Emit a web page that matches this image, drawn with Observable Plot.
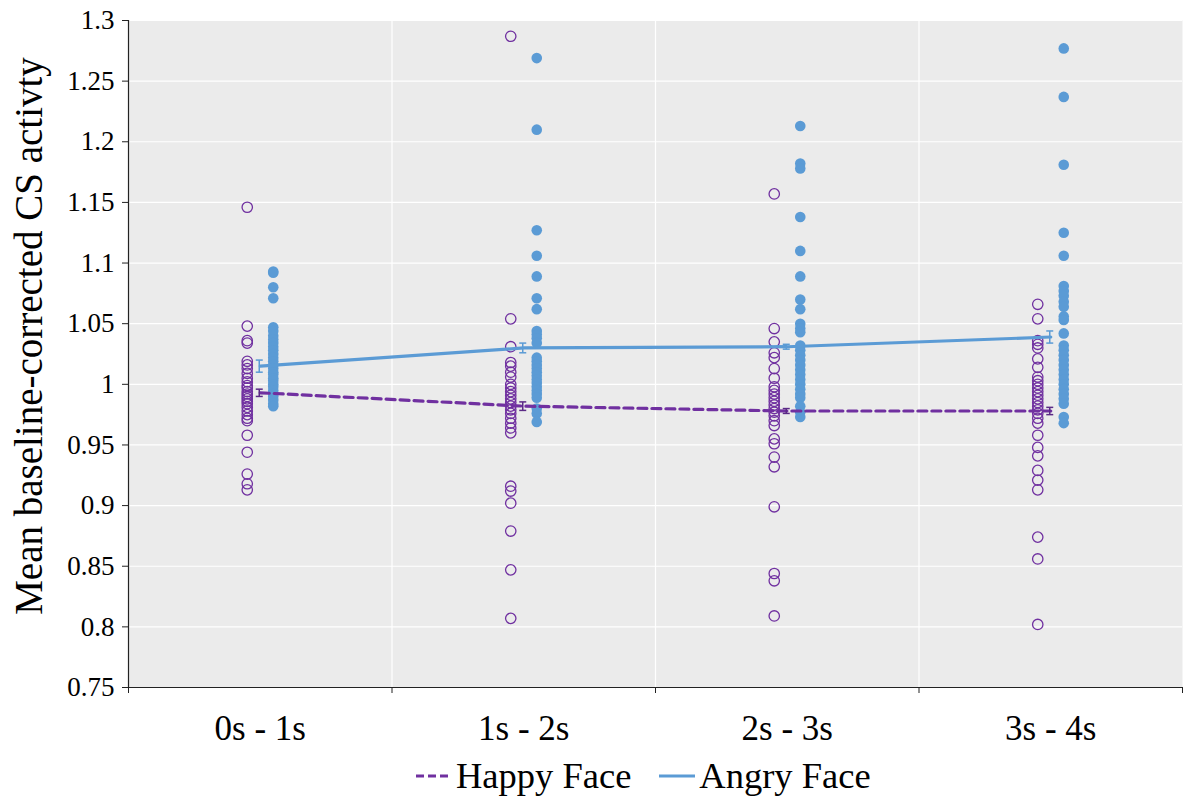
<!DOCTYPE html>
<html>
<head>
<meta charset="utf-8">
<script src="https://cdn.jsdelivr.net/npm/d3@7"></script>
<script src="https://cdn.jsdelivr.net/npm/@observablehq/plot@0.6"></script>
<style>
  html, body { margin: 0; padding: 0; background: #fff; }
  #wrap { position: relative; width: 1183px; height: 796px; font-family: "Liberation Serif", "Times New Roman", "DejaVu Serif", serif; }
  #legend { position: absolute; left: 416px; top: 754px; display: flex; align-items: center; font-size: 36.5px; color: #000; white-space: nowrap; line-height: 44px; }
  #legend .item { display: flex; align-items: center; margin-right: 28px; }
  #legend svg { margin-right: 4px; }
</style>
</head>
<body>
<div id="wrap">
  <div id="chart"></div>
  <div id="legend"></div>
</div>
<script>
const categories = ["0s - 1s", "1s - 2s", "2s - 3s", "3s - 4s"];
const seriesNames = ["Happy Face", "Angry Face"];
const yTicks = [0.75, 0.8, 0.85, 0.9, 0.95, 1, 1.05, 1.1, 1.15, 1.2, 1.25, 1.3];
const yTitle = "Mean baseline-corrected CS activty";

const happyMeans = [0.993, 0.982, 0.978, 0.978];
const angryMeans = [1.015, 1.030, 1.031, 1.039];
const happyErr = [0.003, 0.0035, 0.002, 0.003];
const angryErr = [0.005, 0.004, 0.002, 0.005];

const happy0 = [1.146, 1.048, 1.036, 1.034, 1.019, 1.016, 1.013, 1.009, 1.005, 1.002, 0.999, 0.997, 0.994, 0.992, 0.990, 0.988, 0.986, 0.984, 0.981, 0.978, 0.975, 0.972, 0.970, 0.958, 0.944, 0.926, 0.918, 0.913];
const happy1 = [1.287, 1.054, 1.031, 1.018, 1.015, 1.010, 1.006, 1.000, 0.997, 0.994, 0.991, 0.988, 0.985, 0.982, 0.979, 0.976, 0.972, 0.968, 0.964, 0.960, 0.916, 0.912, 0.902, 0.879, 0.847, 0.807];
const happy2 = [1.157, 1.046, 1.035, 1.026, 1.022, 1.013, 1.005, 0.998, 0.995, 0.992, 0.989, 0.986, 0.983, 0.980, 0.977, 0.974, 0.970, 0.966, 0.955, 0.951, 0.940, 0.932, 0.899, 0.844, 0.838, 0.809];
const happy3 = [1.066, 1.054, 1.036, 1.033, 1.030, 1.021, 1.014, 1.006, 1.003, 1.000, 0.997, 0.994, 0.991, 0.988, 0.985, 0.982, 0.979, 0.976, 0.972, 0.968, 0.958, 0.948, 0.941, 0.929, 0.921, 0.913, 0.874, 0.856, 0.802];

const angry0 = [1.093, 1.092, 1.080, 1.071, 1.047, 1.044, 1.040, 1.037, 1.034, 1.031, 1.028, 1.025, 1.022, 1.019, 1.016, 1.013, 1.010, 1.008, 1.005, 1.003, 1.000, 0.998, 0.995, 0.992, 0.990, 0.987, 0.984, 0.982];
const angry1 = [1.269, 1.210, 1.127, 1.106, 1.089, 1.071, 1.062, 1.044, 1.041, 1.038, 1.034, 1.022, 1.019, 1.016, 1.013, 1.010, 1.007, 1.004, 1.001, 0.998, 0.995, 0.992, 0.989, 0.980, 0.976, 0.969];
const angry2 = [1.213, 1.182, 1.178, 1.138, 1.110, 1.089, 1.070, 1.062, 1.050, 1.046, 1.043, 1.032, 1.028, 1.024, 1.020, 1.016, 1.012, 1.008, 1.004, 1.000, 0.996, 0.992, 0.989, 0.982, 0.977, 0.973];
const angry3 = [1.277, 1.237, 1.181, 1.125, 1.106, 1.081, 1.077, 1.073, 1.068, 1.064, 1.056, 1.053, 1.042, 1.032, 1.028, 1.024, 1.020, 1.016, 1.012, 1.008, 1.004, 1.000, 0.996, 0.992, 0.988, 0.984, 0.973, 0.968];

const happyPoints = [happy0, happy1, happy2, happy3];
const angryPoints = [angry0, angry1, angry2, angry3];

const HAPPY = "#7030A0";
const HAPPY_ERR = "#5b2a86";
const ANGRY = "#5B9BD5";
const SERIF = "'Liberation Serif', 'Times New Roman', 'DejaVu Serif', serif";

// derived tables
const happyRows = happyPoints.flatMap((arr, i) => arr.map(v => ({x: i + 0.5, y: v})));
const angryRows = angryPoints.flatMap((arr, i) => arr.map(v => ({x: i + 0.5, y: v})));
const happyMeanRows = happyMeans.map((m, i) => ({x: i + 0.5, y: m, lo: m - happyErr[i], hi: m + happyErr[i]}));
const angryMeanRows = angryMeans.map((m, i) => ({x: i + 0.5, y: m, lo: m - angryErr[i], hi: m + angryErr[i]}));
const capRows = (rows) => rows.flatMap(d => [{x: d.x, y: d.lo}, {x: d.x, y: d.hi}]);

const hline = { draw(ctx, size) { const r = Math.sqrt(size / Math.PI); ctx.moveTo(-r, 0); ctx.lineTo(r, 0); } };

const fmt = d => String(+d.toFixed(2));

const chart = Plot.plot({
  width: 1183,
  height: 756,
  marginLeft: 128,
  marginRight: 1,
  marginTop: 20,
  marginBottom: 69,
  style: { fontFamily: SERIF, color: "#000", background: "#fff" },
  x: { type: "linear", domain: [0, categories.length] },
  y: { domain: [0.75, 1.3] },
  marks: [
    Plot.frame({ fill: "#ebebeb", stroke: null }),
    Plot.gridY(yTicks, { stroke: "#fff", strokeOpacity: 1, strokeWidth: 1.2 }),
    Plot.gridX(d3.range(1, categories.length), { stroke: "#fff", strokeOpacity: 1, strokeWidth: 1.2 }),
    Plot.axisY({ ticks: yTicks, tickFormat: fmt, tickSize: 6, tickPadding: 8, fontSize: 27, fontFamily: SERIF, label: null, stroke: "#222" }),
    Plot.axisX({ ticks: d3.range(0, categories.length + 1), tickFormat: () => "", tickSize: 6, label: null, stroke: "#222" }),
    Plot.axisX({ ticks: categories.map((c, i) => i + 0.5), tickFormat: d => categories[Math.floor(d)], tickSize: 0, tickPadding: 28, fontSize: 35, fontFamily: SERIF, label: null }),
    Plot.ruleX([0], { stroke: "#222", strokeWidth: 1.2 }),
    Plot.ruleY([0.75], { stroke: "#222", strokeWidth: 1.2 }),
    Plot.text([yTitle], { frameAnchor: "left", textAnchor: "middle", rotate: -90, dx: -99, dy: -18, fontSize: 39, fontFamily: SERIF, fill: "#000" }),
    Plot.dot(happyRows, { x: "x", y: "y", dx: -13, r: 5.2, stroke: HAPPY, strokeWidth: 1.3, fill: "none" }),
    Plot.dot(angryRows, { x: "x", y: "y", dx: 13, r: 5.3, fill: ANGRY, stroke: null }),
    Plot.line(happyMeanRows, { x: "x", y: "y", stroke: HAPPY, strokeWidth: 3.2, strokeDasharray: "9,5" }),
    Plot.line(angryMeanRows, { x: "x", y: "y", stroke: ANGRY, strokeWidth: 3.2 }),
    Plot.link(happyMeanRows, { x1: "x", x2: "x", y1: "lo", y2: "hi", stroke: HAPPY_ERR, strokeWidth: 1.5, dx: -1 }),
    Plot.dot(capRows(happyMeanRows), { x: "x", y: "y", dx: -1, symbol: hline, r: 3.5, stroke: HAPPY_ERR, strokeWidth: 1.5 }),
    Plot.link(angryMeanRows, { x1: "x", x2: "x", y1: "lo", y2: "hi", stroke: ANGRY, strokeWidth: 1.5, dx: -1 }),
    Plot.dot(capRows(angryMeanRows), { x: "x", y: "y", dx: -1, symbol: hline, r: 3.5, stroke: ANGRY, strokeWidth: 1.5 })
  ]
});
document.getElementById("chart").appendChild(chart);

// legend
const legend = document.getElementById("legend");
const swatches = [
  { name: seriesNames[0], color: HAPPY, dash: "8,4" },
  { name: seriesNames[1], color: ANGRY, dash: null }
];
for (const s of swatches) {
  const item = document.createElement("div");
  item.className = "item";
  item.innerHTML = `<svg width="36" height="10"><line x1="0" y1="5" x2="36" y2="5" stroke="${s.color}" stroke-width="3" ${s.dash ? `stroke-dasharray="${s.dash}"` : ""}/></svg><span>${s.name}</span>`;
  legend.appendChild(item);
}
</script>
</body>
</html>
